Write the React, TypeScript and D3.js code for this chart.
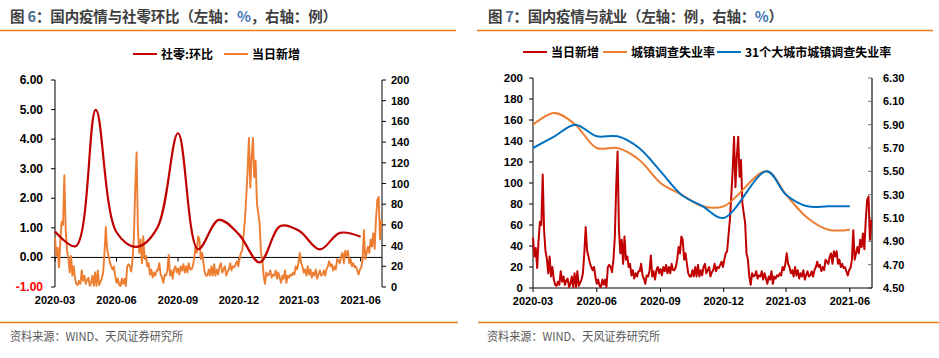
import * as d3 from 'd3';

// 当日新增 (daily new cases), one value every 2 days starting 2020-03-01
const caseStart = new Date(2020, 2, 1);
const caseStepDays = 2;
const dailyNewCases = [
  48, 30, 38, 19, 45, 63, 60, 108, 55, 35, 28, 14, 30, 11, 20, 8, 3, 2, 6, 3,
  16, 6, 11, 3, 7, 9, 1, 4, 11, 1, 14, 1, 16, 2, 5, 8, 14, 33, 58, 36,
  30, 24, 20, 17, 20, 11, 4, 8, 2, 1, 8, 3, 8, 1, 20, 22, 20, 15, 27, 48,
  96, 130, 55, 33, 46, 23, 49, 27, 30, 20, 23, 12, 17, 9, 14, 11, 16, 16, 23, 12,
  9, 4, 12, 11, 16, 31, 11, 16, 8, 17, 20, 14, 18, 12, 20, 16, 22, 14, 20, 14,
  23, 17, 17, 20, 27, 39, 33, 49, 46, 27, 33, 23, 14, 11, 11, 17, 11, 20, 11, 22,
  11, 17, 12, 20, 23, 14, 17, 20, 11, 15, 17, 23, 16, 20, 19, 22, 25, 20, 27, 33,
  35, 50, 65, 87, 112, 144, 96, 125, 144, 106, 122, 81, 71, 62, 33, 27, 11, 3, 14, 11,
  12, 16, 9, 12, 11, 16, 8, 14, 9, 4, 11, 8, 16, 4, 11, 9, 12, 11, 14, 12,
  20, 17, 23, 33, 23, 20, 14, 17, 11, 20, 12, 17, 9, 14, 11, 17, 8, 12, 16, 11,
  12, 16, 11, 17, 20, 25, 20, 22, 16, 20, 17, 27, 25, 23, 30, 33, 23, 35, 30, 35,
  23, 27, 20, 23, 19, 20, 16, 12, 17, 19, 27, 55, 27, 33, 39, 33, 46, 39, 52, 37,
  65, 84, 87, 46, 65
];

// monthly series
const months = [
  '2020-03', '2020-04', '2020-05', '2020-06', '2020-07', '2020-08', '2020-09', '2020-10',
  '2020-11', '2020-12', '2021-01', '2021-02', '2021-03', '2021-04', '2021-05', '2021-06'
];
const retailMoM = [0.88, 0.38, 4.99, 0.85, 0.36, 1.0, 4.2, 0.28, 1.27, 0.78, -0.17, 1.06, 0.9, 0.27, 0.83, 0.7];
// unemployment: Jan 2021 not published separately -> null
const urbanUnemp = [5.9, 6.0, 5.9, 5.7, 5.7, 5.6, 5.4, 5.3, 5.2, 5.2, null, 5.5, 5.3, 5.1, 5.0, 5.0];
const cityUnemp = [5.7, 5.8, 5.9, 5.8, 5.8, 5.7, 5.5, 5.3, 5.2, 5.1, null, 5.5, 5.3, 5.2, 5.2, 5.2];

const xTickLabels = ['2020-03', '2020-06', '2020-09', '2020-12', '2021-03', '2021-06'];
const leftTicks6 = [-1, 0, 1, 2, 3, 4, 5, 6];
const caseTicks = [0, 20, 40, 60, 80, 100, 120, 140, 160, 180, 200];
const unempTicks = [4.5, 4.7, 4.9, 5.1, 5.3, 5.5, 5.7, 5.9, 6.1, 6.3];

const RED = '#c00000';
const ORANGE = '#ed7d31';
const BLUE = '#0070c0';
const numFont = '"Liberation Sans", Arial, sans-serif';
const cjkFont = '"Noto Sans CJK SC", "Noto Sans", sans-serif';

const parseMonth = d3.timeParse('%Y-%m');
const monthDates = months.map((m) => parseMonth(m) as Date);
const tickDates = xTickLabels.map((m) => parseMonth(m) as Date);
const caseData = dailyNewCases.map((v, i) => ({
  date: d3.timeDay.offset(caseStart, i * caseStepDays),
  value: v
}));
const domain: [Date, Date] = [new Date(2020, 2, 1), new Date(2021, 6, 3)];

type Pt = { date: Date; value: number | null };
const monthly = (vals: (number | null)[]): Pt[] =>
  vals.map((v, i) => ({ date: monthDates[i], value: v })).filter((d) => d.value !== null);

function XLabels({ x, y }: { x: d3.ScaleTime<number, number>; y: number }) {
  return (
    <g>
      {tickDates.map((d, i) => (
        <text key={i} x={x(d)} y={y} textAnchor="middle" fontFamily={numFont} fontWeight="bold" fontSize={11}>
          {xTickLabels[i]}
        </text>
      ))}
    </g>
  );
}

function LeftChart() {
  const x = d3.scaleTime().domain(domain).range([55, 382]);
  const yL = d3.scaleLinear().domain([-1, 6]).range([287, 80]);
  const yR = d3.scaleLinear().domain([0, 200]).range([287, 80]);

  const retailLine = d3
    .line<Pt>()
    .x((d) => x(d.date))
    .y((d) => yL(d.value as number))
    .curve(d3.curveCatmullRom.alpha(0.5));
  const caseLine = d3
    .line<{ date: Date; value: number }>()
    .x((d) => x(d.date))
    .y((d) => yR(d.value));

  return (
    <g>
      {/* left axis */}
      <line x1={55} x2={55} y1={yL(6)} y2={yL(-1)} stroke="#000" />
      {leftTicks6.map((t) => (
        <g key={t}>
          <line x1={51} x2={55} y1={yL(t)} y2={yL(t)} stroke="#000" />
          <text x={43} y={yL(t) + 4} textAnchor="end" fontFamily={numFont} fontWeight="bold" fontSize={12}
            fill={t < 0 ? '#ff0000' : '#000'}>
            {t.toFixed(2)}
          </text>
        </g>
      ))}
      {/* right axis */}
      <line x1={382} x2={382} y1={yR(200)} y2={yR(0)} stroke="#000" />
      {caseTicks.map((t) => (
        <g key={t}>
          <line x1={382} x2={386} y1={yR(t)} y2={yR(t)} stroke="#000" />
          <text x={391} y={yR(t) + 4} fontFamily={numFont} fontWeight="bold" fontSize={11}>
            {t}
          </text>
        </g>
      ))}
      {/* zero line with month ticks */}
      <line x1={55} x2={382} y1={yL(0)} y2={yL(0)} stroke="#000" />
      {tickDates.map((d, i) => (
        <line key={i} x1={x(d)} x2={x(d)} y1={yL(0)} y2={yL(0) + 4} stroke="#000" />
      ))}
      <XLabels x={x} y={304} />
      <path d={caseLine(caseData) ?? ''} fill="none" stroke={ORANGE} strokeWidth={1.9} strokeLinejoin="round" />
      <path d={retailLine(monthly(retailMoM)) ?? ''} fill="none" stroke={RED} strokeWidth={2.2} />
    </g>
  );
}

function RightChart() {
  const x = d3.scaleTime().domain(domain).range([533, 872]);
  const yL = d3.scaleLinear().domain([0, 200]).range([288, 78]);
  const yR = d3.scaleLinear().domain([4.5, 6.3]).range([288, 78]);

  const caseLine = d3
    .line<{ date: Date; value: number }>()
    .x((d) => x(d.date))
    .y((d) => yL(d.value));
  const unempLine = d3
    .line<Pt>()
    .x((d) => x(d.date))
    .y((d) => yR(d.value as number))
    .curve(d3.curveCatmullRom.alpha(0.5));

  return (
    <g>
      <line x1={533} x2={533} y1={yL(200)} y2={yL(0)} stroke="#000" />
      {caseTicks.map((t) => (
        <g key={t}>
          <line x1={529} x2={533} y1={yL(t)} y2={yL(t)} stroke="#000" />
          <text x={523} y={yL(t) + 4} textAnchor="end" fontFamily={numFont} fontWeight="bold" fontSize={11.5}>
            {t}
          </text>
        </g>
      ))}
      <line x1={872} x2={872} y1={yR(6.3)} y2={yR(4.5)} stroke="#707070" strokeWidth={2} />
      {unempTicks.map((t) => (
        <g key={t}>
          <line x1={868} x2={872} y1={yR(t)} y2={yR(t)} stroke="#707070" />
          <text x={883} y={yR(t) + 4} fontFamily={numFont} fontWeight="bold" fontSize={11}>
            {t.toFixed(2)}
          </text>
        </g>
      ))}
      <line x1={533} x2={872} y1={yL(0)} y2={yL(0)} stroke="#000" />
      {tickDates.map((d, i) => (
        <line key={i} x1={x(d)} x2={x(d)} y1={yL(0)} y2={yL(0) + 4} stroke="#000" />
      ))}
      <XLabels x={x} y={305} />
      <path d={caseLine(caseData) ?? ''} fill="none" stroke={RED} strokeWidth={2} strokeLinejoin="round" />
      <path d={unempLine(monthly(urbanUnemp)) ?? ''} fill="none" stroke={ORANGE} strokeWidth={2} />
      <path d={unempLine(monthly(cityUnemp)) ?? ''} fill="none" stroke={BLUE} strokeWidth={2} />
    </g>
  );
}

function Legend({ items }: { items: { x: number; label: string; color: string }[] }) {
  return (
    <g>
      {items.map((it) => (
        <g key={it.label}>
          <line x1={it.x} x2={it.x + 24} y1={0} y2={0} stroke={it.color} strokeWidth={2} />
          <text x={it.x + 28} y={4.5} fontFamily={cjkFont} fontWeight="bold" fontSize={12} fill="#000">
            {it.label}
          </text>
        </g>
      ))}
    </g>
  );
}

export default function App() {
  return (
    <svg width={939} height={358} style={{ position: 'absolute', left: 0, top: 0, background: '#fff' }}>
      <rect width={939} height={358} fill="#fff" />
      {/* titles */}
      <text x={10} y={22} fontFamily={cjkFont} fontWeight="bold" fontSize={14.5} fill="#3f3f3f"
        textLength={327} lengthAdjust="spacing">
        图 <tspan fill="#4a6d8f">6</tspan>：国内疫情与社零环比（左轴：<tspan fill="#3b73b9">%</tspan>，右轴：例）
      </text>
      <text x={488} y={22} fontFamily={cjkFont} fontWeight="bold" fontSize={14.5} fill="#3f3f3f"
        textLength={295} lengthAdjust="spacing">
        图 <tspan fill="#4a6d8f">7</tspan>：国内疫情与就业（左轴：例，右轴：<tspan fill="#3b73b9">%</tspan>）
      </text>
      <line x1={0} x2={456} y1={30.5} y2={30.5} stroke="#f07f1e" strokeWidth={1.5} />
      <line x1={477} x2={933} y1={30.5} y2={30.5} stroke="#f07f1e" strokeWidth={1.5} />

      <g transform="translate(0,54)">
        <Legend items={[
          { x: 133, label: '社零:环比', color: RED },
          { x: 224, label: '当日新增', color: ORANGE }
        ]} />
      </g>
      <g transform="translate(0,52)">
        <Legend items={[
          { x: 523, label: '当日新增', color: RED },
          { x: 603, label: '城镇调查失业率', color: ORANGE },
          { x: 717, label: '31个大城市城镇调查失业率', color: BLUE }
        ]} />
      </g>

      <LeftChart />
      <RightChart />

      <line x1={0} x2={458} y1={322.5} y2={322.5} stroke="#f07f1e" strokeWidth={1.5} />
      <line x1={478} x2={939} y1={322.5} y2={322.5} stroke="#f07f1e" strokeWidth={1.5} />
      <text x={10} y={341} fontFamily={cjkFont} fontSize={12} fill="#595959"
        textLength={173} lengthAdjust="spacingAndGlyphs">资料来源：WIND、天风证券研究所</text>
      <text x={487} y={341} fontFamily={cjkFont} fontSize={12} fill="#595959"
        textLength={173} lengthAdjust="spacingAndGlyphs">资料来源：WIND、天风证券研究所</text>
    </svg>
  );
}
